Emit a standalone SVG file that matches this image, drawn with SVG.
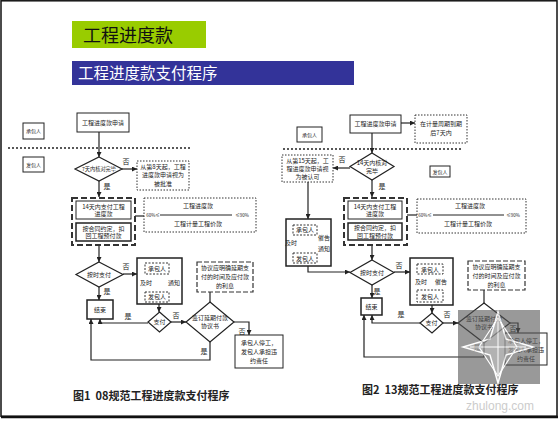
<svg xmlns="http://www.w3.org/2000/svg" width="560" height="421" viewBox="0 0 560 421">
<defs>
<marker id="ah" viewBox="0 0 6 6" refX="6" refY="3" markerWidth="5" markerHeight="5" markerUnits="userSpaceOnUse" orient="auto"><path d="M0,0 L6,3 L0,6 z" fill="#222"/></marker>
<style>
text{font-family:"Noto Sans CJK SC","Liberation Sans",sans-serif;fill:#222}
.t{font-size:6px;text-anchor:middle}
.s{font-size:5px;text-anchor:middle}
.l{font-size:7px;text-anchor:middle}
.box{fill:#fff;stroke:#222;stroke-width:1}
.bb{fill:#fff;stroke:#222;stroke-width:1.5}
.dot{fill:#fff;stroke:#333;stroke-width:1;stroke-dasharray:1.5 1.5}
.grp{fill:none;stroke:#333;stroke-width:2;stroke-dasharray:6 3}
.dd{fill:#fff;stroke:#333;stroke-width:1;stroke-dasharray:2 1.5}
.ag{fill:#fff;stroke:#333;stroke-width:1.2;stroke-dasharray:5 2}
.dia{fill:#fff;stroke:#222;stroke-width:1.2}
.ln{fill:none;stroke:#222;stroke-width:1.2}
.arr{fill:none;stroke:#222;stroke-width:1.2;marker-end:url(#ah)}
.sep{stroke:#222;stroke-width:1.5;stroke-dasharray:2 2}
.cap{font-size:11px;font-weight:bold}
</style>
</defs>
<rect width="560" height="421" fill="#fff"/>
<rect x="1" y="0.8" width="556" height="415.5" fill="none" stroke="#111" stroke-width="1.5"/>
<line x1="1" y1="417" x2="558" y2="417" stroke="#111" stroke-width="2.5"/>

<g id="title1"><rect x="72" y="21" width="134" height="27" fill="#99cc00"/><text x="83" y="42" style="font-size:18px;fill:#111">工程进度款</text></g>
<g id="title2"><rect x="72" y="61" width="282" height="24" fill="#333399"/><text x="78" y="79" style="font-size:15.5px;fill:#fff">工程进度款支付程序</text></g>

<g id="connectors">
<line class="sep" x1="8" y1="148" x2="190" y2="148"/>
<line class="arr" x1="99" y1="132" x2="99" y2="157"/>
<line class="arr" x1="122" y1="169" x2="137" y2="169"/>
<line class="arr" x1="99" y1="181" x2="99" y2="197"/>
<line class="ln" x1="135" y1="216" x2="144" y2="216"/>
<line class="arr" x1="99" y1="245" x2="99" y2="262"/>
<line class="arr" x1="123" y1="274" x2="137" y2="274"/>
<line class="arr" x1="158" y1="274" x2="158" y2="292"/>
<line class="arr" x1="99" y1="287" x2="99" y2="300"/>
<line class="arr" x1="159" y1="304" x2="159" y2="312"/>
<path class="arr" d="M148,323 H100 V319"/>
<line class="arr" x1="171" y1="322" x2="186" y2="322"/>
<path class="arr" d="M234,322 H249 V335"/>
<path class="arr" d="M210,342 V360 H91 V319"/>
<line class="ln" x1="210" y1="292" x2="210" y2="302"/>
<line class="sep" x1="283" y1="149" x2="462" y2="149"/>
<line class="arr" x1="401" y1="123" x2="415" y2="123"/>
<line class="arr" x1="372" y1="133" x2="372" y2="153"/>
<line class="arr" x1="350" y1="168" x2="333" y2="168"/>
<line class="arr" x1="372" y1="180" x2="372" y2="197"/>
<line class="arr" x1="308" y1="182" x2="308" y2="219"/>
<line class="ln" x1="407" y1="215" x2="417" y2="215"/>
<line class="arr" x1="307" y1="235" x2="307" y2="253"/>
<path class="arr" d="M308,266 V272 H350"/>
<line class="arr" x1="372" y1="245" x2="372" y2="260"/>
<line class="arr" x1="394" y1="272" x2="410" y2="272"/>
<line class="arr" x1="432" y1="274" x2="432" y2="290"/>
<line class="arr" x1="372" y1="285" x2="372" y2="298"/>
<line class="arr" x1="432" y1="305" x2="432" y2="313"/>
<path class="arr" d="M420,323 H372 V315"/>
<line class="arr" x1="443" y1="323" x2="458" y2="323"/>
<path class="arr" d="M510,323 H518 V333"/>
<path class="arr" d="M484,343 V357 H364 V315"/>
<line class="ln" x1="484" y1="290" x2="484" y2="303"/>
</g>

<g id="l-contractor"><rect class="box" x="23" y="123" width="21" height="16"/><text class="s" x="33.5" y="133">承包人</text></g>
<g id="l-employer"><rect class="box" x="23" y="157" width="21" height="15"/><text class="s" x="33.5" y="166.5">发包人</text></g>
<g id="l-apply"><rect class="box" x="77" y="113" width="52" height="19"/><text class="t" x="103" y="124.5">工程进度款申请</text></g>
<g id="l-check"><polygon class="dia" points="99,157 122,169 99,181 75,169"/><text class="t" x="99" y="171" style="font-size:5.2px">7天内核对完毕</text></g>
<text class="l" x="126" y="164">否</text>
<text class="l" x="107" y="189">是</text>
<g id="l-approved"><rect class="dot" x="137" y="161" width="52" height="29"/><text class="t" x="163" y="169">从第8天起，工程</text><text class="t" x="163" y="177">进度款申请视为</text><text class="t" x="163" y="185.5">被批准</text></g>
<g id="l-pay-group"><rect class="grp" x="72" y="198" width="63" height="47"/>
<rect class="box" x="76" y="201" width="55" height="18"/><text class="t" x="103.5" y="208.5">14天内支付工程</text><text class="t" x="103.5" y="216">进度款</text>
<rect class="bb" x="76" y="223" width="55" height="18"/><text class="t" x="103.5" y="230.5">按合同约定，扣</text><text class="t" x="103.5" y="238">回工程预付款</text></g>
<g id="l-ratio"><rect class="dot" x="144" y="198" width="112" height="34"/><text class="t" x="198" y="208">工程进度款</text><line x1="160" y1="215" x2="232" y2="215" stroke="#222" stroke-width="1"/><text class="s" x="153" y="216.5" style="font-size:4.5px">60%≤</text><text class="s" x="242" y="216.5" style="font-size:4.5px">≤90%</text><text class="t" x="198" y="226">工程计量工程价款</text></g>
<g id="l-ontime"><polygon class="dia" points="99,262 123,274.5 99,287 76,274.5"/><text class="t" x="99" y="276.5">按时支付</text></g>
<text class="l" x="126" y="269">否</text>
<text class="l" x="107" y="294">是</text>
<g id="l-notify"><rect class="bb" x="137" y="258" width="45" height="46"/>
<rect class="dd" x="145" y="263" width="24" height="11"/><text class="t" x="157" y="270.5">承包人</text>
<rect class="dd" x="145" y="292" width="24" height="10"/><text class="t" x="157" y="299">发包人</text>
<text class="t" x="146" y="285">及时</text><text class="t" x="174" y="285">通知</text></g>
<g id="l-end"><rect class="bb" x="87" y="300" width="26" height="19"/><text class="t" x="100" y="312">结束</text></g>
<g id="l-pay"><polygon class="dia" points="159.5,312 171,322 159.5,332 148,322"/><text class="t" x="159.5" y="324">支付</text></g>
<text class="l" x="128" y="319">是</text>
<text class="l" x="176" y="318">否</text>
<g id="l-delay"><polygon class="dia" points="210,302 234,322 210,342 186,322"/><text class="t" x="210" y="320">签订延期付款</text><text class="t" x="210" y="328">协议书</text></g>
<text class="l" x="242" y="334">否</text>
<text class="l" x="204" y="354">是</text>
<g id="l-agree"><rect class="ag" x="197" y="262" width="56" height="30"/><text class="t" x="225" y="270">协议应明确延期支</text><text class="t" x="225" y="279">付的时间及应付款</text><text class="t" x="225" y="288">的利息</text></g>
<g id="l-stop"><rect class="box" x="235" y="335" width="48" height="33"/><text class="t" x="259" y="345">承包人停工，</text><text class="t" x="259" y="354">发包人承担违</text><text class="t" x="259" y="363">约责任</text></g>
<text class="cap" x="73" y="400">图1&#160;&#160;08规范工程进度款支付程序</text>

<g id="r-contractor"><rect class="box" x="297" y="127" width="25" height="15"/><text class="s" x="309.5" y="136.5">承包人</text></g>
<g id="r-employer"><rect class="box" x="430" y="166" width="20" height="11"/><text class="s" x="440" y="173.5">发包人</text></g>
<g id="r-apply"><rect class="box" x="350" y="115" width="51" height="18"/><text class="t" x="375.5" y="126">工程进度款申请</text></g>
<g id="r-period"><rect class="dot" x="415" y="115" width="52" height="28"/><text class="t" x="441" y="126">在计量周期到期</text><text class="t" x="441" y="135">后7天内</text></g>
<g id="r-check"><polygon class="dia" points="372,153 394,166.5 372,180 350,166.5"/><text class="t" x="372" y="165">14天内核对</text><text class="t" x="372" y="172.5">完毕</text></g>
<text class="l" x="342" y="162">否</text>
<text class="l" x="382" y="189">是</text>
<g id="r-approved"><rect class="dot" x="282" y="155" width="51" height="27"/><text class="t" x="307.5" y="163">从第15天起，工</text><text class="t" x="307.5" y="171">程进度款申请视</text><text class="t" x="307.5" y="179">为被认可</text></g>
<g id="r-pay-group"><rect class="grp" x="344" y="198" width="63" height="47"/>
<rect class="box" x="348" y="201" width="54" height="18"/><text class="t" x="375" y="208.5">14天内支付工程</text><text class="t" x="375" y="216">进度款</text>
<rect class="bb" x="348" y="223" width="54" height="17"/><text class="t" x="375" y="230">按合同约定，扣</text><text class="t" x="375" y="237.5">回工程预付款</text></g>
<g id="r-ratio"><rect class="dot" x="417" y="199" width="109" height="34"/><text class="t" x="470" y="208">工程进度款</text><line x1="433" y1="215" x2="504" y2="215" stroke="#222" stroke-width="1"/><text class="s" x="425" y="216.5" style="font-size:4.5px">60%≤</text><text class="s" x="513" y="216.5" style="font-size:4.5px">≤90%</text><text class="t" x="468" y="226">工程计量工程价款</text></g>
<g id="r-remind"><rect class="bb" x="286" y="219" width="45" height="47"/>
<rect class="dd" x="293" y="225" width="24" height="10"/><text class="t" x="305" y="232">承包人</text>
<rect class="dd" x="293" y="253" width="24" height="10"/><text class="t" x="305" y="260.5">发包人</text>
<text class="t" x="291" y="245">及时</text><text class="t" x="324" y="240">催告</text><text class="t" x="324" y="251">通知</text></g>
<g id="r-ontime"><polygon class="dia" points="372,260 394,272.5 372,285 350,272.5"/><text class="t" x="372" y="274.5">按时支付</text></g>
<text class="l" x="399" y="268">否</text>
<text class="l" x="377" y="294">是</text>
<g id="r-notify"><rect class="bb" x="410" y="258" width="43" height="47"/>
<rect class="dd" x="417" y="264" width="26" height="10"/><text class="t" x="430" y="271.5">承包人</text>
<rect class="dd" x="417" y="290" width="26" height="12"/><text class="t" x="430" y="298.5">发包人</text>
<text class="t" x="421" y="284">及时</text><text class="t" x="441" y="284">催告</text></g>
<g id="r-end"><rect class="bb" x="361" y="298" width="21" height="17"/><text class="t" x="371.5" y="309">结束</text></g>
<g id="r-pay"><polygon class="dia" points="432,313 443,323 432,333 420,323"/><text class="t" x="431.5" y="325">支付</text></g>
<text class="l" x="401" y="317">是</text>
<text class="l" x="447" y="317">否</text>
<g id="r-delay"><polygon class="dia" points="484,303 510,323 484,343 458,323"/><text class="t" x="484" y="321">签订延期付款</text><text class="t" x="484" y="329">协议书</text></g>
<text class="l" x="513" y="331">否</text>
<text class="l" x="477" y="350">是</text>
<g id="r-agree"><rect class="ag" x="468" y="261" width="57" height="29"/><text class="t" x="496.5" y="269">协议应明确延期支</text><text class="t" x="496.5" y="278">付的时间及应付款</text><text class="t" x="496.5" y="287">的利息</text></g>
<g id="r-stop"><rect class="box" x="505" y="333" width="42" height="32"/><text class="t" x="526" y="343">承包人停工，</text><text class="t" x="526" y="352">发包人承担违</text><text class="t" x="526" y="361">约责任</text></g>
<text class="cap" x="362" y="394">图2&#160;&#160;13规范工程进度款支付程序</text>

<g id="watermark" opacity="0.75">
<rect x="458" y="310" width="82" height="74" fill="#555" opacity="0.8"/>
<polygon points="498,312 506,339 533,347 506,355 498,383 490,355 463,347 490,339" fill="#999" stroke="#fff" stroke-width="1.5"/>
<polygon points="498,318 517,347 498,376 479,347" fill="none" stroke="#fff" stroke-width="1.2"/>
<line x1="498" y1="320" x2="498" y2="374" stroke="#fff" stroke-width="1"/>
<line x1="470" y1="347" x2="526" y2="347" stroke="#fff" stroke-width="1"/>
<text x="500" y="410" style="font-family:'Liberation Sans',sans-serif;font-size:12px;fill:#bbb;text-anchor:middle">zhulong.com</text>
</g>
</svg>
